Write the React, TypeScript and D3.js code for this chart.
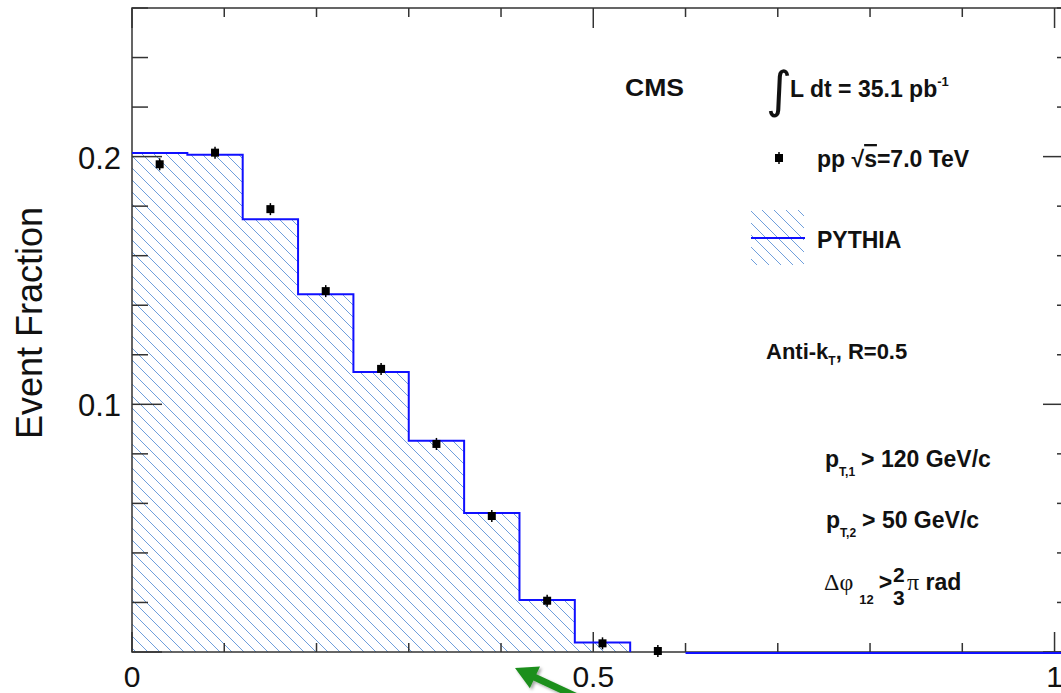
import React from "react";
import * as d3 from "d3";

// PYTHIA histogram (bin edges and contents)
const binEdges = [0, 0.06, 0.12, 0.18, 0.24, 0.3, 0.36, 0.42, 0.48, 0.54];
const pythia = [0.2015, 0.2008, 0.1747, 0.1444, 0.113, 0.0853, 0.0561, 0.021, 0.0038];
const pythiaTailStart = 0.6;

// data points (bin centres)
const dataX = [0.03, 0.09, 0.15, 0.21, 0.27, 0.33, 0.39, 0.45, 0.51, 0.57];
const dataY = [0.1969, 0.2016, 0.1788, 0.1457, 0.1143, 0.084, 0.0549, 0.0207, 0.0035, 0.0004];

const xLabels = ["0", "0.5", "1"];
const yLabels = ["0.1", "0.2"];

const W = 1061;
const H = 693;
const frame = { left: 132, right: 1073, top: 8, bottom: 652 };
const FONT = "'Liberation Sans', Arial, Helvetica, sans-serif";
const SYM = "'Liberation Serif', 'Times New Roman', serif";
const AXIS = "#333";
const HATCH = "#6f9fdc";
const BLUE = "#1010ff";

export default function App() {
  const x = d3.scaleLinear().domain([0, 1.02]).range([frame.left, frame.right]);
  const y = d3.scaleLinear().domain([0, 0.26]).range([frame.bottom, frame.top]);

  const xTicks = x.ticks(10);
  const yTicks = y.ticks(13);
  const isMajor = (v: number, step: number) => Math.abs(v / step - Math.round(v / step)) < 1e-6;

  // step outline
  const pts: [number, number][] = [];
  pythia.forEach((v, i) => {
    pts.push([x(binEdges[i]), y(v)]);
    pts.push([x(binEdges[i + 1]), y(v)]);
  });
  pts.push([x(binEdges[binEdges.length - 1]), y(0)]);
  const outline = d3.line()(pts) as string;
  const area = (d3.line()([[x(0), y(0)], ...pts]) as string) + "Z";

  // green annotation arrow (pixel space)
  const tip = [515, 668];
  const tail = [590, 703];
  const dx = tip[0] - tail[0];
  const dy = tip[1] - tail[1];
  const len = Math.hypot(dx, dy);
  const u = [dx / len, dy / len];
  const n = [-u[1], u[0]];
  const headL = 22, headW = 12, shaftW = 3.5;
  const base = [tip[0] - u[0] * headL, tip[1] - u[1] * headL];
  const arrowPts = [
    [tail[0] + n[0] * shaftW, tail[1] + n[1] * shaftW],
    [base[0] + n[0] * shaftW, base[1] + n[1] * shaftW],
    [base[0] + n[0] * headW, base[1] + n[1] * headW],
    tip,
    [base[0] - n[0] * headW, base[1] - n[1] * headW],
    [base[0] - n[0] * shaftW, base[1] - n[1] * shaftW],
    [tail[0] - n[0] * shaftW, tail[1] - n[1] * shaftW],
  ];

  const marker = (cx: number, cy: number, key: string) => (
    <g key={key}>
      <line x1={cx} x2={cx} y1={cy - 6} y2={cy + 6} stroke="#000" strokeWidth={1.5} />
      <rect x={cx - 4} y={cy - 4} width={8} height={8} fill="#000" />
    </g>
  );

  return (
    <svg
      width={W}
      height={H}
      style={{ position: "absolute", left: 0, top: 0, background: "#fff" }}
      fontFamily={FONT}
    >
      <defs>
        <pattern id="hatch" patternUnits="userSpaceOnUse" width={12} height={12}>
          <path d="M-3,-3 L15,15 M-3,9 L3,15 M9,-3 L15,3" stroke={HATCH} strokeWidth={1} />
        </pattern>
        <filter id="shadow" x="-20%" y="-20%" width="140%" height="140%">
          <feDropShadow dx={2} dy={2} stdDeviation={1.5} floodColor="#000" floodOpacity={0.35} />
        </filter>
      </defs>

      {/* hatched PYTHIA fill */}
      <path d={area} fill="url(#hatch)" />

      {/* frame */}
      <rect
        x={frame.left}
        y={frame.top}
        width={frame.right - frame.left}
        height={frame.bottom - frame.top}
        fill="none"
        stroke={AXIS}
        strokeWidth={1.5}
      />
      {xTicks.map((t) => {
        const L = isMajor(t, 0.5) ? 20 : 9;
        return (
          <g key={"xt" + t} stroke={AXIS} strokeWidth={1.5}>
            <line x1={x(t)} x2={x(t)} y1={frame.bottom} y2={frame.bottom - L} />
            <line x1={x(t)} x2={x(t)} y1={frame.top} y2={frame.top + L} />
          </g>
        );
      })}
      {yTicks.map((t) => {
        const L = isMajor(t, 0.1) ? 30 : 16;
        return (
          <g key={"yt" + t} stroke={AXIS} strokeWidth={1.5}>
            <line x1={frame.left} x2={frame.left + L} y1={y(t)} y2={y(t)} />
            <line x1={frame.right} x2={frame.right - L} y1={y(t)} y2={y(t)} />
          </g>
        );
      })}

      {/* PYTHIA outline */}
      <path d={outline} fill="none" stroke={BLUE} strokeWidth={2} />
      <line
        x1={x(pythiaTailStart)}
        x2={frame.right}
        y1={y(0) + 1}
        y2={y(0) + 1}
        stroke={BLUE}
        strokeWidth={2}
      />

      {/* data */}
      {dataX.map((v, i) => marker(x(v), y(dataY[i]), "p" + i))}

      {/* axis labels */}
      {xLabels.map((l) => (
        <text key={l} x={x(+l)} y={687} fontSize={30} textAnchor="middle" fill="#111">
          {l}
        </text>
      ))}
      {yLabels.map((l) => (
        <text key={l} x={121} y={y(+l) + 12} fontSize={31} textAnchor="end" fill="#111">
          {l}
        </text>
      ))}
      <text
        transform="translate(42,323) rotate(-90)"
        fontSize={36}
        textAnchor="middle"
        fill="#111"
      >
        Event Fraction
      </text>

      {/* annotations */}
      <g fontWeight="bold" fontSize={23} fill="#111">
        <text x={625} y={96} textLength={59} lengthAdjust="spacingAndGlyphs">CMS</text>
        <text x={766} y={107} fontSize={50} fontWeight="normal" fontFamily="'DejaVu Sans', sans-serif">∫</text>
        <text x={790} y={97}>
          L dt = 35.1 pb
          <tspan fontSize={13} dy={-11}>-1</tspan>
        </text>

        <text x={817} y={167}>
          pp √<tspan textDecoration="overline">s</tspan>=7.0 TeV
        </text>
        <text x={817} y={248}>PYTHIA</text>

        <text x={766} y={359} fontSize={22}>
          Anti-k<tspan fontSize={12} dy={6}>T</tspan>
          <tspan dy={-6}>, R=0.5</tspan>
        </text>

        <text x={825} y={467}>
          p<tspan fontSize={12} dy={9}>T,1</tspan>
          <tspan dy={-9} dx={6}>&gt; 120 GeV/c</tspan>
        </text>
        <text x={826} y={528}>
          p<tspan fontSize={12} dy={9}>T,2</tspan>
          <tspan dy={-9} dx={6}>&gt; 50 GeV/c</tspan>
        </text>
        <text x={824} y={590}>
          <tspan fontWeight="normal" fontFamily={SYM} fontSize={24}>Δφ</tspan>
          <tspan fontSize={13} dy={14} dx={6}>12</tspan>
          <tspan dy={-14} dx={5}>&gt;</tspan>
        </text>
        <text x={893} y={582} fontSize={21}>2</text>
        <text x={893} y={605} fontSize={21}>3</text>
        <text x={907} y={590}>
          <tspan fontWeight="normal" fontFamily={SYM} fontSize={24}>π</tspan> rad
        </text>
      </g>

      {/* legend symbols */}
      {marker(779, 158, "leg")}
      <rect x={751} y={210} width={53} height={55} fill="url(#hatch)" />
      <line x1={751} x2={805} y1={238} y2={238} stroke={BLUE} strokeWidth={2} />

      {/* green arrow */}
      <polygon
        points={arrowPts.map((p) => p.join(",")).join(" ")}
        fill="#1f8f1f"
        filter="url(#shadow)"
      />
    </svg>
  );
}
